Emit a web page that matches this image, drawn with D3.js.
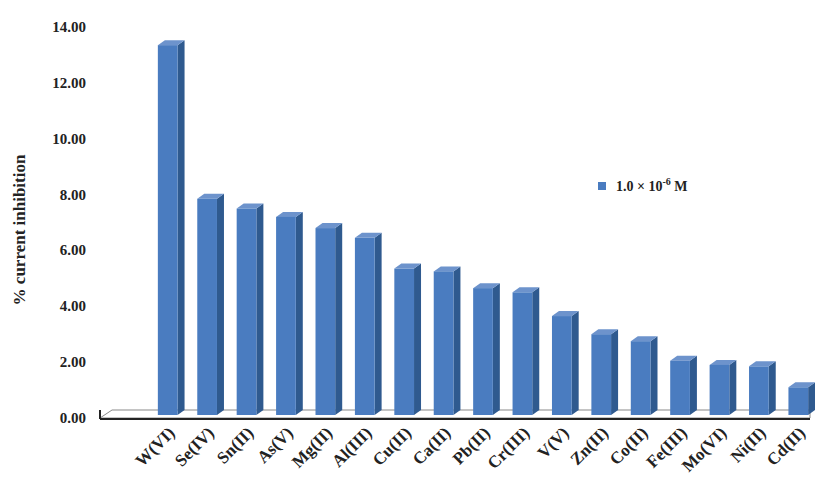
<!DOCTYPE html>
<html><head><meta charset="utf-8">
<script src="https://cdn.jsdelivr.net/npm/d3@7"></script>
<style>body{margin:0;background:#fff}text{font-family:"Liberation Serif",serif;font-weight:bold}</style>
</head><body><svg id="c" width="815" height="488"></svg>
<script>
// metal ions and their % current inhibition
const ions = ["W(VI)","Se(IV)","Sn(II)","As(V)","Mg(II)","Al(III)","Cu(II)","Ca(II)","Pb(II)","Cr(III)","V(V)","Zn(II)","Co(II)","Fe(III)","Mo(VI)","Ni(II)","Cd(II)"];
const inhibition = [13.35,7.85,7.5,7.2,6.8,6.45,5.35,5.25,4.65,4.5,3.65,3.0,2.75,2.05,1.9,1.85,1.1];
const ticks = [0,2,4,6,8,10,12,14];

const svg = d3.select("#c");
const x = d3.scaleBand().domain(ions).range([148, 818]).paddingInner(0.5).paddingOuter(0.25);
const y = d3.scaleLinear().domain([0, 14]).range([418, 27]);
const dx = 7, dy = -5;

// tick labels
svg.selectAll(".tk").data(ticks).join("text")
  .attr("x", 86).attr("y", d => y(d) + 5).attr("text-anchor", "end")
  .attr("font-size", 15).attr("fill", "#222").text(d => d.toFixed(2));

// 3D floor
svg.append("path").attr("d", `M100,${y(0)} L${100+dx+5},${y(0)+dy-3} L810,${y(0)+dy-3} L810,${y(0)} Z`)
  .attr("fill", "#fff").attr("stroke", "#888");
svg.append("line").attr("x1", 100).attr("x2", 810).attr("y1", y(0)+1).attr("y2", y(0)+1)
  .attr("stroke", "#222").attr("stroke-width", 2);
svg.append("line").attr("x1", 100).attr("x2", 100).attr("y1", y(0)+1).attr("y2", y(0)-8)
  .attr("stroke", "#222").attr("stroke-width", 2);

const base = y(0) - 3;
const g = svg.selectAll(".bar").data(ions).join("g");
g.append("path").attr("fill", "#2f5a8f")
  .attr("d", (d, i) => { const x1 = x(d) + x.bandwidth(), t = y(inhibition[i]);
    return `M${x1},${base} L${x1},${t} L${x1+dx},${t+dy} L${x1+dx},${base+dy} Z`; });
g.append("path").attr("fill", "#6d93cc")
  .attr("d", (d, i) => { const x0 = x(d), x1 = x0 + x.bandwidth(), t = y(inhibition[i]);
    return `M${x0},${t} L${x0+dx},${t+dy} L${x1+dx},${t+dy} L${x1},${t} Z`; });
g.append("rect").attr("fill", "#4a7cc0")
  .attr("x", d => x(d)).attr("width", x.bandwidth())
  .attr("y", (d, i) => y(inhibition[i])).attr("height", (d, i) => base - y(inhibition[i]));

// category labels
svg.selectAll(".cl").data(ions).join("text")
  .attr("transform", d => `translate(${x(d) + x.bandwidth()/2 + 8},${434}) rotate(-45)`)
  .attr("text-anchor", "end").attr("font-size", 17).attr("fill", "#222").text(d => d);

// y title
svg.append("text").attr("transform", "translate(25,230) rotate(-90)").attr("text-anchor", "middle")
  .attr("font-size", 17).attr("fill", "#222").text("% current inhibition");

// legend
svg.append("rect").attr("x", 598).attr("y", 182).attr("width", 8).attr("height", 8).attr("fill", "#4a7cc0");
const lt = svg.append("text").attr("x", 616).attr("y", 191).attr("font-size", 14).attr("font-weight", "normal").attr("fill", "#222");
lt.append("tspan").text("1.0 × 10");
lt.append("tspan").attr("dy", -6).attr("font-size", 10).attr("font-weight", "bold").text("-6");
lt.append("tspan").attr("dy", 6).text(" M");
</script></body></html>
